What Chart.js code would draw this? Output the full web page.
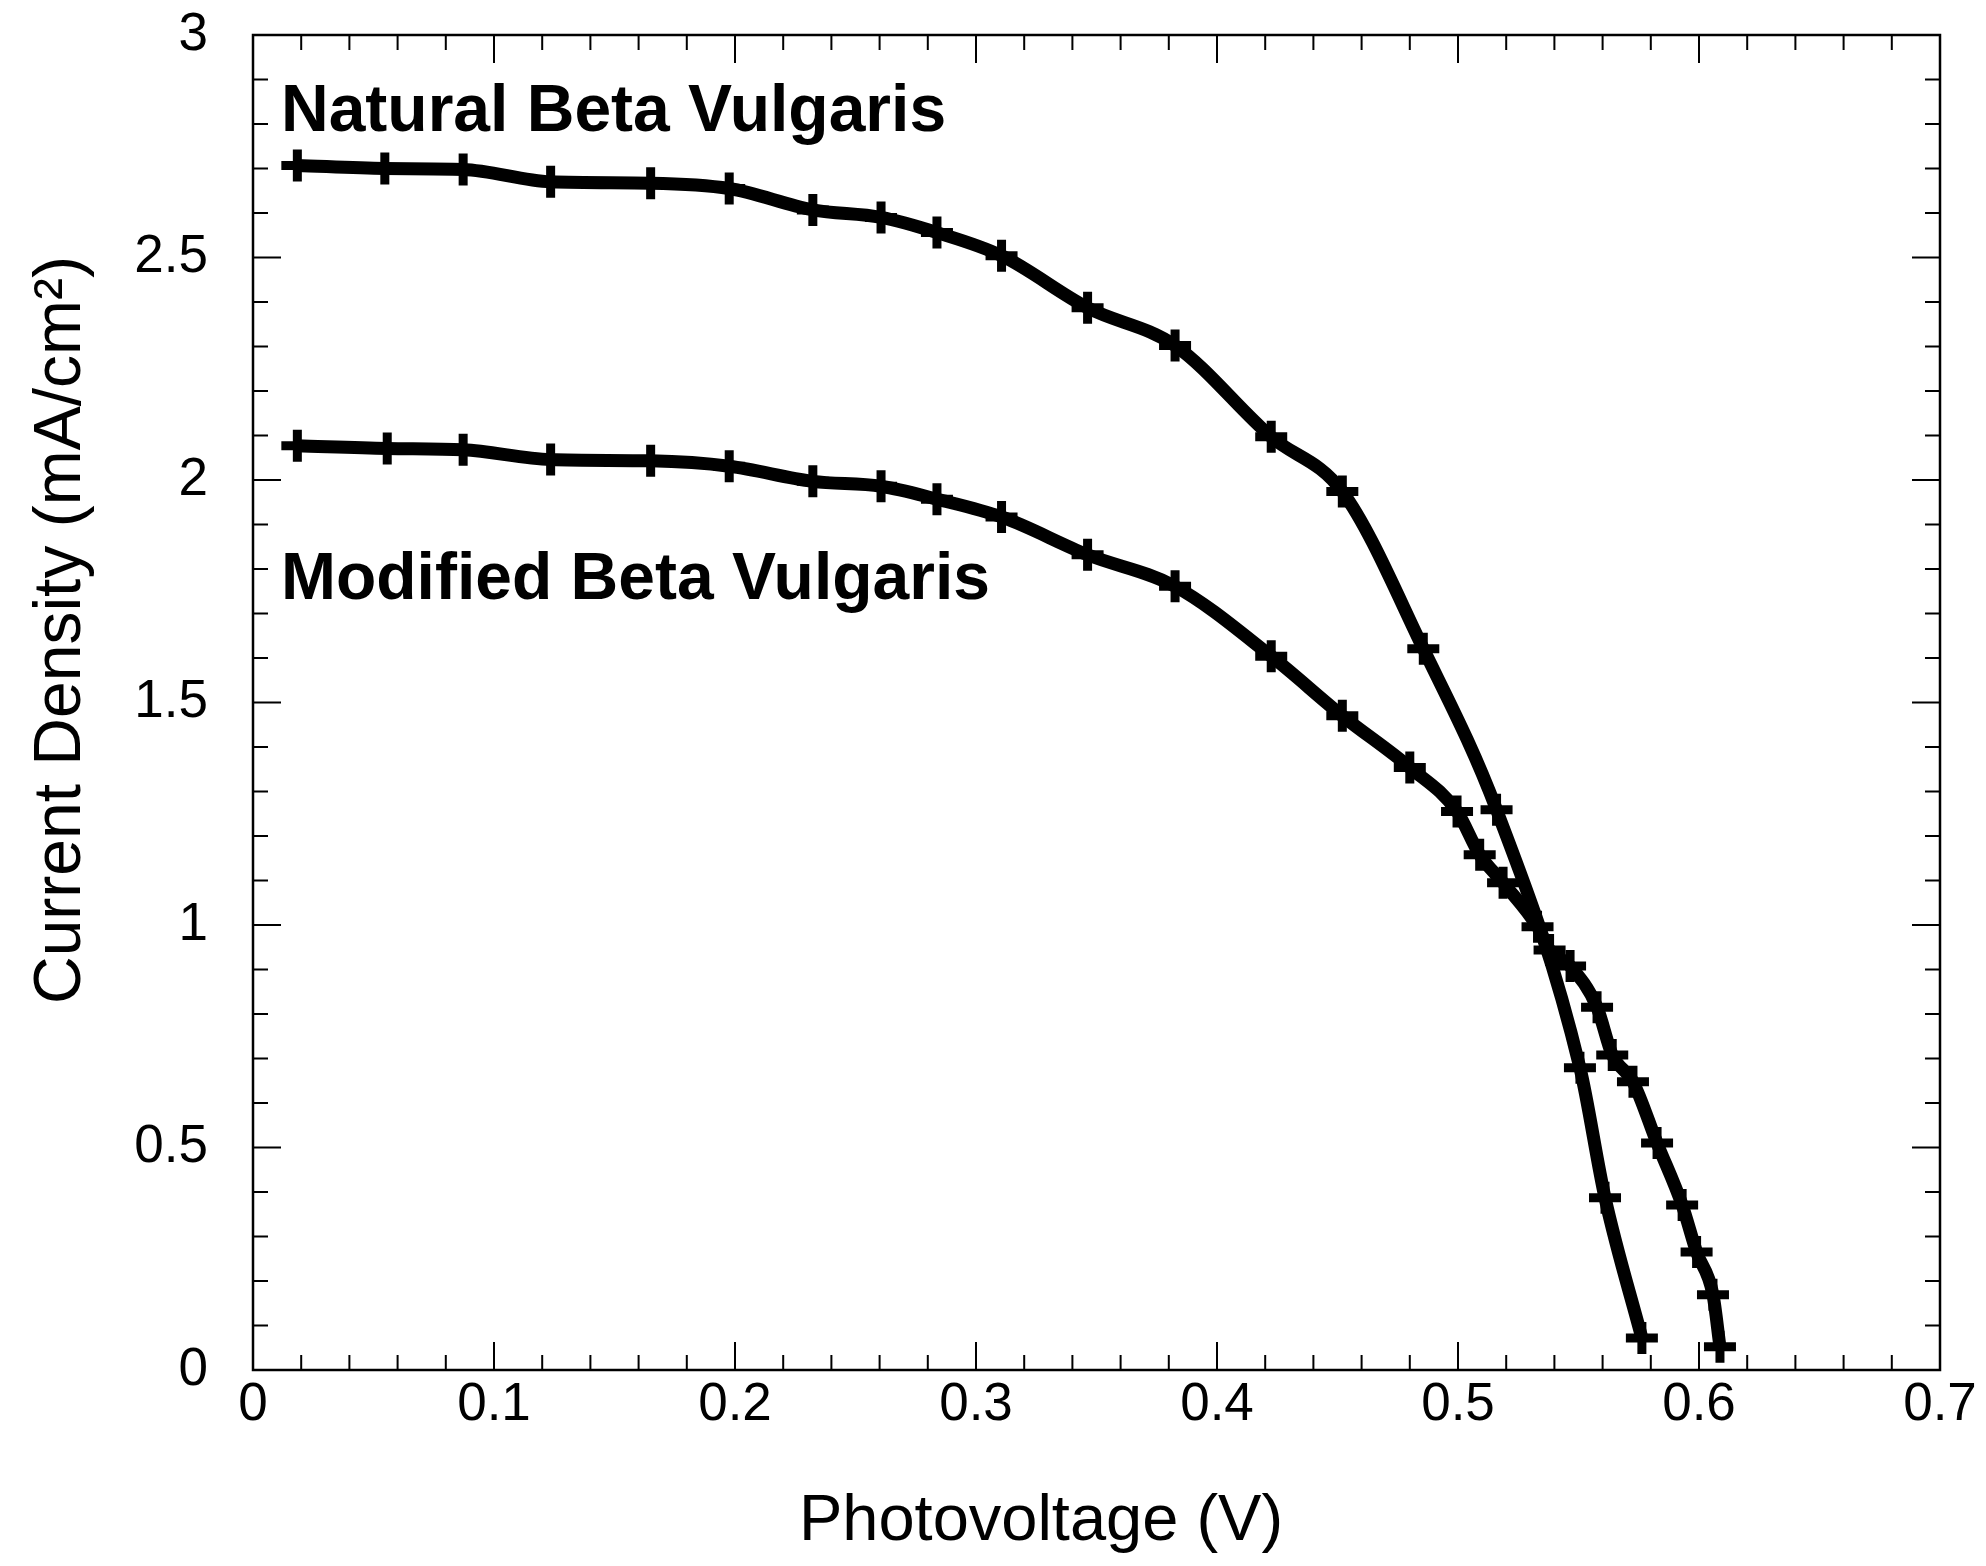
<!DOCTYPE html>
<html lang="en">
<head>
<meta charset="UTF-8">
<title>Photovoltage vs Current Density</title>
<script src="https://cdn.jsdelivr.net/npm/chart.js@4"></script>
<style>
  html, body { margin: 0; padding: 0; background: #fff; overflow: hidden; }
  canvas { display: block; }
</style>
</head>
<body>
<canvas id="ivChart" width="1986" height="1566"></canvas>
<script>
// values
const naturalV = [0.0184, 0.0547, 0.0872, 0.1235, 0.165, 0.1976, 0.2323, 0.2606, 0.2838, 0.3106,
                  0.3463, 0.3826, 0.4225, 0.452, 0.4856, 0.516, 0.5506, 0.561, 0.5763];
const naturalJ = [2.707, 2.700, 2.698, 2.670, 2.667, 2.655, 2.607, 2.590, 2.556, 2.504,
                  2.387, 2.302, 2.097, 1.974, 1.621, 1.259, 0.679, 0.387, 0.072];
const modifiedV = [0.0184, 0.0557, 0.0872, 0.1235, 0.165, 0.1976, 0.2323, 0.2606, 0.2838, 0.3106,
                   0.3463, 0.3826, 0.4225, 0.452, 0.480, 0.4996, 0.509, 0.5187, 0.533, 0.538,
                   0.5465, 0.5577, 0.564, 0.5726, 0.5826, 0.593, 0.599, 0.6058, 0.6087];
const modifiedJ = [2.077, 2.071, 2.068, 2.046, 2.043, 2.031, 1.997, 1.986, 1.957, 1.917,
                   1.832, 1.761, 1.604, 1.470, 1.354, 1.255, 1.158, 1.095, 0.996, 0.944,
                   0.908, 0.815, 0.708, 0.648, 0.510, 0.371, 0.265, 0.169, 0.052];
const xTickLabels = ['0', '0.1', '0.2', '0.3', '0.4', '0.5', '0.6', '0.7'];
const yTickLabels = ['0', '0.5', '1', '1.5', '2', '2.5', '3'];
const seriesNames = ['Natural Beta Vulgaris', 'Modified Beta Vulgaris'];
const xTitle = 'Photovoltage (V)';
const yTitle = 'Current Density (mA/cm\u00B2)';

const FONT = "'Liberation Sans', Arial, Helvetica, sans-serif";

function toPoints(xs, ys) {
  return xs.map((x, i) => ({ x: x, y: ys[i] }));
}

// box with inward ticks on all four sides, plus the texts
const frameTicks = {
  id: 'frameTicks',
  afterDraw(chart) {
    const ctx = chart.ctx;
    const a = chart.chartArea;
    const xs = chart.scales.x, ys = chart.scales.y;
    ctx.save();
    ctx.strokeStyle = '#000';
    ctx.lineWidth = 2;
    for (let i = 0; i <= 35; i++) {
      const px = xs.getPixelForValue(i * 0.02);
      const len = i % 5 === 0 ? 28 : 15;
      ctx.beginPath();
      ctx.moveTo(px, a.bottom); ctx.lineTo(px, a.bottom - len);
      ctx.moveTo(px, a.top); ctx.lineTo(px, a.top + len);
      ctx.stroke();
    }
    for (let i = 0; i <= 30; i++) {
      const py = ys.getPixelForValue(i * 0.1);
      const len = i % 5 === 0 ? 28 : 15;
      ctx.beginPath();
      ctx.moveTo(a.left, py); ctx.lineTo(a.left + len, py);
      ctx.moveTo(a.right, py); ctx.lineTo(a.right - len, py);
      ctx.stroke();
    }
    ctx.lineWidth = 2.5;
    ctx.strokeRect(a.left, a.top, a.right - a.left, a.bottom - a.top);

    // series names inside the plot
    ctx.fillStyle = '#000';
    ctx.font = 'bold 66px ' + FONT;
    ctx.textAlign = 'left';
    ctx.textBaseline = 'alphabetic';
    ctx.fillText(seriesNames[0], a.left + 28, a.top + 96);
    ctx.fillText(seriesNames[1], a.left + 28, a.top + 564);

    // x axis title
    ctx.font = '65px ' + FONT;
    ctx.textAlign = 'center';
    ctx.textBaseline = 'middle';
    ctx.fillText(xTitle, a.left + 788, chart.height - 44);

    // y axis title
    ctx.font = '66px ' + FONT;
    ctx.translate(62, a.top + 595);
    ctx.rotate(-Math.PI / 2);
    ctx.fillText(yTitle, 0, 0);
    ctx.restore();
  }
};

const lineStyle = {
  borderColor: '#000',
  backgroundColor: '#000',
  borderWidth: 13,
  borderJoinStyle: 'round',
  pointStyle: 'cross',
  pointRadius: 16,
  pointBorderWidth: 9,
  pointBorderColor: '#000',
  cubicInterpolationMode: 'monotone',
  fill: false,
  showLine: true
};

new Chart(document.getElementById('ivChart'), {
  type: 'scatter',
  data: {
    datasets: [
      Object.assign({ label: seriesNames[0], data: toPoints(naturalV, naturalJ) }, lineStyle),
      Object.assign({ label: seriesNames[1], data: toPoints(modifiedV, modifiedJ) }, lineStyle)
    ]
  },
  options: {
    responsive: false,
    animation: false,
    devicePixelRatio: 1,
    layout: { padding: { top: 35, right: 46, left: 0, bottom: 0 } },
    plugins: {
      legend: { display: false },
      tooltip: { enabled: false }
    },
    scales: {
      x: {
        type: 'linear',
        min: 0,
        max: 0.7,
        grid: { display: false, drawTicks: false },
        border: { display: false },
        ticks: {
          stepSize: 0.1,
          padding: 4,
          color: '#000',
          font: { family: FONT, size: 53 },
          maxRotation: 0,
          callback: (v, i) => xTickLabels[i]
        },
        afterFit(s) {
          s.height = 196;
          s.paddingLeft = 0;
          s.paddingRight = 0;
        }
      },
      y: {
        type: 'linear',
        min: 0,
        max: 3,
        grid: { display: false, drawTicks: false },
        border: { display: false },
        ticks: {
          stepSize: 0.5,
          padding: 45,
          color: '#000',
          font: { family: FONT, size: 53 },
          callback: (v, i) => yTickLabels[i]
        },
        afterFit(s) {
          s.width = 253;
          s.paddingTop = 0;
          s.paddingBottom = 0;
        }
      }
    }
  },
  plugins: [frameTicks]
});
</script>
</body>
</html>
